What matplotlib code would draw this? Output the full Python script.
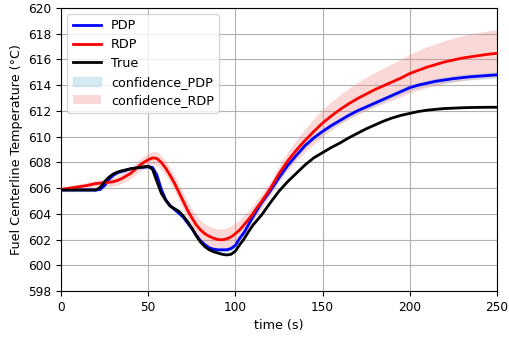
import matplotlib
matplotlib.use('Agg')
import matplotlib.pyplot as plt
import numpy as np

# time axis (s)
t = [0, 5, 10, 15, 17.5, 20, 22.5, 25, 27.5, 30, 32.5, 35, 37.5, 40, 42.5, 45, 47.5,
     50, 52.5, 55, 57.5, 60, 62.5, 65, 67.5, 70, 72.5, 75, 77.5, 80, 82.5, 85, 87.5,
     90, 92.5, 95, 97.5, 100, 102.5, 105, 107.5, 110, 112.5, 115, 120, 125, 130, 135,
     140, 145, 150, 155, 160, 165, 170, 175, 180, 185, 190, 195, 200, 205, 210, 215,
     220, 225, 230, 235, 240, 245, 250]

true_temp = [605.85, 605.85, 605.85, 605.85, 605.85, 605.85, 606.05, 606.5, 606.85, 607.1,
             607.25, 607.35, 607.42, 607.5, 607.55, 607.6, 607.65, 607.7, 607.45, 606.5,
             605.6, 605.05, 604.6, 604.4, 604.2, 603.85, 603.4, 602.9, 602.3, 601.8,
             601.45, 601.2, 601.05, 600.95, 600.85, 600.8, 600.85, 601.1, 601.6, 602.05,
             602.6, 603.1, 603.5, 603.9, 604.85, 605.75, 606.5, 607.15, 607.8, 608.35,
             608.75, 609.15, 609.5, 609.9, 610.25, 610.6, 610.9, 611.2, 611.45, 611.65,
             611.8, 611.95, 612.05, 612.12, 612.18, 612.21, 612.24, 612.26, 612.27,
             612.28, 612.28]

pdp = [605.85, 605.85, 605.85, 605.85, 605.85, 605.85, 605.9, 606.2, 606.7, 607.0,
       607.2, 607.3, 607.4, 607.5, 607.55, 607.6, 607.62, 607.65, 607.6, 607.0,
       605.9, 605.1, 604.65, 604.35, 604.05, 603.75, 603.3, 602.85, 602.35, 601.9,
       601.6, 601.35, 601.25, 601.2, 601.2, 601.2, 601.3, 601.55, 602.1, 602.55,
       603.15, 603.75, 604.3, 604.85, 605.78, 606.8, 607.75, 608.55, 609.3, 609.9,
       610.4, 610.85, 611.25, 611.65, 612.0, 612.3, 612.6, 612.9, 613.2, 613.5,
       613.8, 614.0, 614.15, 614.3, 614.4, 614.5, 614.58, 614.65, 614.7, 614.75, 614.8]

rdp = [605.9, 606.0, 606.1, 606.2, 606.28, 606.35, 606.38, 606.42, 606.45, 606.5,
       606.6, 606.75, 606.95, 607.15, 607.45, 607.75, 608.0, 608.2, 608.35, 608.3,
       608.0, 607.55, 607.0, 606.4, 605.7, 605.0, 604.3, 603.7, 603.15, 602.75,
       602.45, 602.25, 602.1, 602.0, 601.98, 602.05, 602.2, 602.45, 602.75, 603.15,
       603.55, 604.0, 604.5, 604.95, 605.95, 607.1, 608.1, 608.95, 609.7, 610.4,
       611.05, 611.6, 612.1, 612.55, 612.95, 613.3, 613.65, 613.95, 614.25, 614.55,
       614.9, 615.15, 615.4, 615.6, 615.8, 615.95, 616.1, 616.2, 616.3, 616.4, 616.47]

# half widths of the confidence bands
pdp_band = [0.08, 0.08, 0.08, 0.08, 0.08, 0.08, 0.08, 0.09, 0.09, 0.09,
            0.09, 0.09, 0.1, 0.1, 0.1, 0.1, 0.1, 0.1, 0.1, 0.1,
            0.1, 0.1, 0.1, 0.1, 0.1, 0.1, 0.1, 0.1, 0.12, 0.12,
            0.12, 0.12, 0.12, 0.12, 0.12, 0.12, 0.12, 0.12, 0.12, 0.12,
            0.12, 0.12, 0.12, 0.12, 0.13, 0.13, 0.13, 0.14, 0.14, 0.14,
            0.15, 0.15, 0.15, 0.16, 0.16, 0.16, 0.17, 0.17, 0.17, 0.18,
            0.18, 0.18, 0.19, 0.19, 0.19, 0.2, 0.2, 0.2, 0.2, 0.2, 0.2]

rdp_band = [0.1, 0.15, 0.2, 0.22, 0.24, 0.25, 0.27, 0.3, 0.32, 0.34,
            0.36, 0.38, 0.4, 0.42, 0.44, 0.46, 0.48, 0.5, 0.5, 0.52,
            0.54, 0.56, 0.58, 0.6, 0.62, 0.65, 0.68, 0.7, 0.72, 0.74,
            0.76, 0.78, 0.8, 0.82, 0.84, 0.85, 0.85, 0.85, 0.8, 0.75,
            0.7, 0.65, 0.6, 0.55, 0.55, 0.6, 0.7, 0.8, 0.9, 1.0,
            1.05, 1.1, 1.15, 1.2, 1.25, 1.3, 1.34, 1.38, 1.42, 1.46,
            1.5, 1.54, 1.58, 1.62, 1.66, 1.7, 1.73, 1.76, 1.79, 1.82, 1.85]

plt.rcParams['font.size'] = 9.2

t_arr = np.array(t)
pdp_arr = np.array(pdp)
rdp_arr = np.array(rdp)

fig = plt.figure(figsize=(5.09, 3.37), dpi=100)
ax = fig.add_axes([0.12, 0.1365, 0.856, 0.84])

ax.fill_between(t_arr, pdp_arr - np.array(pdp_band), pdp_arr + np.array(pdp_band),
                color='lightblue', alpha=0.5, label='confidence_PDP', zorder=1)
ax.fill_between(t_arr, rdp_arr - np.array(rdp_band), rdp_arr + np.array(rdp_band),
                color='lightcoral', alpha=0.3, label='confidence_RDP', linewidth=0, zorder=1)
ax.plot(t, pdp, color='blue', lw=2, label='PDP', zorder=3)
ax.plot(t, rdp, color='red', lw=2, label='RDP', zorder=3)
ax.plot(t, true_temp, color='black', lw=2, label='True', zorder=4)

ax.set_xlim(0, 250)
ax.set_ylim(598, 620)
ax.set_yticks(np.arange(598, 621, 2))
ax.tick_params(labelsize=8.7)
ax.grid(True, color='#b0b0b0', lw=0.8)
ax.set_axisbelow(True)
ax.set_xlabel('time (s)')
ax.set_ylabel('Fuel Centerline Temperature (°C)')

handles, labels = ax.get_legend_handles_labels()
order = [labels.index(k) for k in ['PDP', 'RDP', 'True', 'confidence_PDP', 'confidence_RDP']]
ax.legend([handles[i] for i in order], [labels[i] for i in order], loc='upper left',
          handlelength=2.2, labelspacing=0.45)

fig.savefig('out.png', dpi=100)
